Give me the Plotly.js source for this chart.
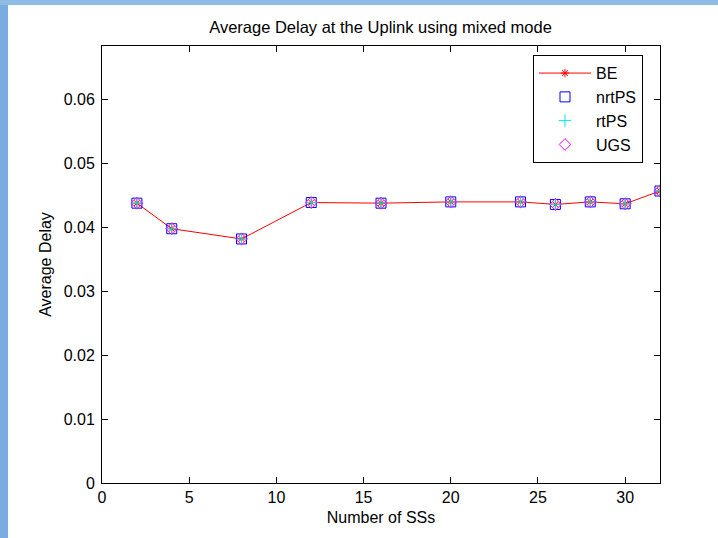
<!DOCTYPE html>
<html>
<head>
<meta charset="utf-8">
<script src="https://cdn.plot.ly/plotly-3.0.1.min.js"></script>
<style>
html,body{margin:0;padding:0;width:718px;height:538px;overflow:hidden;background:#fff;}
#frame{position:absolute;left:0;top:0;width:718px;height:538px;
  background:
    linear-gradient(to bottom,#8fbce5 0,#8fbce5 5px,transparent 5px),
    linear-gradient(to right,#79ade0 0,#79ade0 8px,#ffffff 8px);}
#chart{position:absolute;left:0;top:0;width:718px;height:538px;}
</style>
</head>
<body>
<div id="frame"></div>
<div id="chart"></div>
<script>
const numSS = [2, 4, 8, 12, 16, 20, 24, 26, 28, 30, 32];
const delayBE    = [0.0438, 0.0398, 0.0382, 0.0439, 0.0438, 0.0440, 0.0440, 0.0436, 0.0440, 0.0437, 0.0457];
const delayNrtPS = [0.0438, 0.0398, 0.0382, 0.0439, 0.0438, 0.0440, 0.0440, 0.0436, 0.0440, 0.0437, 0.0457];
const delayRtPS  = [0.0438, 0.0398, 0.0382, 0.0439, 0.0438, 0.0440, 0.0440, 0.0436, 0.0440, 0.0437, 0.0457];
const delayUGS   = [0.0438, 0.0398, 0.0382, 0.0439, 0.0438, 0.0440, 0.0440, 0.0436, 0.0440, 0.0437, 0.0457];
const xTicks = [0, 5, 10, 15, 20, 25, 30];
const yTicks = [0, 0.01, 0.02, 0.03, 0.04, 0.05, 0.06];
const yTickText = ['0', '0.01', '0.02', '0.03', '0.04', '0.05', '0.06'];

const FONT = 'Liberation Sans, Arial, sans-serif';
const FS = 16;

const traces = [
  {x: numSS, y: delayBE, name: 'BE', mode: 'lines+markers',
   line: {color: '#ff0000', width: 1},
   marker: {symbol: 'asterisk-open', size: 7, color: '#ff0000', line: {color: '#ff0000', width: 1}}},
  {x: numSS, y: delayNrtPS, name: 'nrtPS', mode: 'markers',
   marker: {symbol: 'square-open', size: 10, color: '#0000ff', line: {color: '#0000ff', width: 1}}},
  {x: numSS, y: delayRtPS, name: 'rtPS', mode: 'markers',
   marker: {symbol: 'cross-thin-open', size: 9, color: '#00e5e5', line: {color: '#00e5e5', width: 1}}},
  {x: numSS, y: delayUGS, name: 'UGS', mode: 'markers',
   marker: {symbol: 'diamond-open', size: 9, color: '#ff00ff', line: {color: '#ff00ff', width: 1}}}
];

const layout = {
  width: 718, height: 538,
  paper_bgcolor: 'rgba(0,0,0,0)',
  plot_bgcolor: '#ffffff',
  margin: {l: 102, r: 58, t: 46, b: 55},
  font: {family: FONT, size: FS, color: '#000'},
  title: {text: 'Average Delay at the Uplink using mixed mode', x: 0.53, xanchor: 'center', y: 0.95, yanchor: 'middle',
          font: {family: FONT, size: 16.5, color: '#000'}},
  xaxis: {range: [0, 32], tickvals: xTicks, ticktext: xTicks.map(String), ticks: 'inside', ticklen: 6,
          showline: true, mirror: 'ticks', linecolor: '#000', linewidth: 1, tickcolor: '#000', showgrid: false, zeroline: false,
          tickfont: {family: FONT, size: FS},
          title: {text: 'Number of SSs', standoff: 6, font: {family: FONT, size: FS}}},
  yaxis: {range: [0, 0.0684], tickvals: yTicks, ticktext: yTickText, ticks: 'inside', ticklen: 6,
          showline: true, mirror: 'ticks', linecolor: '#000', linewidth: 1, tickcolor: '#000', showgrid: false, zeroline: false,
          tickfont: {family: FONT, size: FS}, ticklabelstandoff: 3,
          title: {text: 'Average Delay', standoff: 8, font: {family: FONT, size: FS}}},
  legend: {x: 0.7724, xanchor: 'left', y: 0.979, yanchor: 'top', bgcolor: '#ffffff', bordercolor: '#000', borderwidth: 1,
           font: {family: FONT, size: 16}, itemwidth: 52, tracegroupgap: 0},
  showlegend: true
};

Plotly.newPlot('chart', traces, layout, {displayModeBar: false, staticPlot: true});
</script>
</body>
</html>
